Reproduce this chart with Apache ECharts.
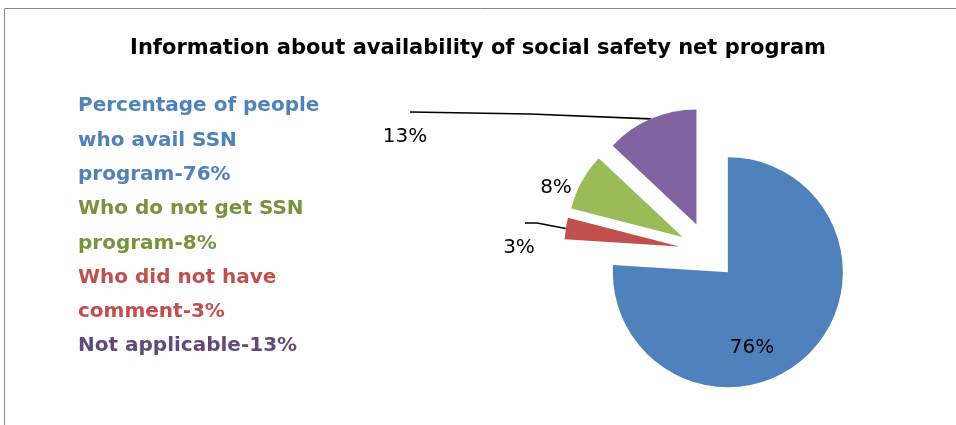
<!DOCTYPE html>
<html>
<head>
<meta charset="utf-8">
<script src="https://cdn.jsdelivr.net/npm/echarts@6/dist/echarts.min.js"></script>
<style>
  html, body { margin: 0; padding: 0; background: #ffffff; }
  #chart { width: 956px; height: 425px; }
</style>
</head>
<body>
<div id="chart"></div>
<script>
// Survey answers, listed clockwise from 12 o'clock
const categories = [
  'Percentage of people who avail SSN program',
  'Who did not have comment',
  'Who do not get SSN program',
  'Not applicable'
];
const values = [76, 3, 8, 13];
const sliceColors = ['#4F81BD', '#C0504D', '#9BBB59', '#8064A2'];
const textColors = ['#4F81BD', '#C0504D', '#77933C', '#604A7B'];
// Order in which the categories are listed at the left
const legendOrder = [0, 2, 1, 3];

const PIE_CENTER = [708, 251];
const PIE_RADIUS = 115;
const EXPLODE = 29;

const chart = echarts.init(document.getElementById('chart'), null, { renderer: 'canvas' });

// Placement of each percentage label and the bend points of its leader line
const labelSpots = [
  { x: 752, y: 348 },
  { x: 519, y: 248, line: [[537, 223], [525, 223]] },
  { x: 556, y: 188 },
  { x: 405, y: 137, line: [[530, 114], [410, 112]] }
];

const sliceData = values.map(function (v, i) {
  return {
    name: categories[i],
    value: v,
    selected: true,
    itemStyle: { color: sliceColors[i] }
  };
});

// Transparent copy of the pie, reaching out to the exploded rims, that carries the labels
const labelData = values.map(function (v, i) {
  const item = { name: categories[i], value: v };
  if (i === 0) {
    item.label = { position: 'inside' };
    item.labelLine = { show: false };
  } else if (i === 2) {
    item.labelLine = { show: false };
  }
  return item;
});

chart.setOption({
  animation: false,
  title: {
    text: 'Information about availability of social safety net program',
    left: 'center',
    top: 33,
    textStyle: {
      fontFamily: 'DejaVu Sans',
      fontWeight: 'bold',
      fontSize: 21,
      color: '#000000'
    }
  },
  graphic: [{
    type: 'rect',
    shape: { x: 4.5, y: 8.5, width: 1200, height: 1000 },
    style: { fill: 'none', stroke: '#8a8a8a', lineWidth: 1 },
    silent: true
  }],
  legend: {
    orient: 'vertical',
    left: 67,
    top: 84,
    icon: 'none',
    itemWidth: 1,
    itemHeight: 10,
    itemGap: 0,
    selectedMode: false,
    formatter: function (name) {
      const i = categories.indexOf(name);
      return name + '-' + values[i] + '%';
    },
    textStyle: {
      fontFamily: 'DejaVu Sans',
      fontWeight: 'bold',
      fontSize: 20,
      lineHeight: 34.3,
      width: 262,
      overflow: 'break'
    },
    data: legendOrder.map(function (i) {
      return { name: categories[i], textStyle: { color: textColors[i] } };
    })
  },
  series: [{
    name: 'slices',
    type: 'pie',
    center: PIE_CENTER,
    radius: PIE_RADIUS,
    startAngle: 90,
    clockwise: true,
    selectedMode: 'multiple',
    selectedOffset: EXPLODE,
    emphasis: { disabled: true },
    select: { itemStyle: {} },
    itemStyle: { borderWidth: 0 },
    label: { show: false },
    labelLine: { show: false },
    silent: true,
    data: sliceData
  }, {
    name: 'labels',
    type: 'pie',
    center: PIE_CENTER,
    radius: PIE_RADIUS + EXPLODE,
    startAngle: 90,
    clockwise: true,
    selectedMode: false,
    silent: true,
    avoidLabelOverlap: false,
    emphasis: { disabled: true },
    itemStyle: { color: 'rgba(0,0,0,0)', borderWidth: 0 },
    label: {
      formatter: '{c}%',
      fontFamily: 'DejaVu Sans',
      fontSize: 20,
      color: '#000000'
    },
    labelLine: {
      show: true,
      length: 10,
      length2: 20,
      smooth: false,
      lineStyle: { color: '#000000', width: 1.6 }
    },
    labelLayout: function (params) {
      const spot = labelSpots[params.dataIndex];
      const out = { x: spot.x, y: spot.y, align: 'center', verticalAlign: 'middle' };
      if (spot.line && params.labelLinePoints) {
        out.labelLinePoints = [params.labelLinePoints[0]].concat(spot.line);
      }
      return out;
    },
    data: labelData
  }]
});
</script>
</body>
</html>
